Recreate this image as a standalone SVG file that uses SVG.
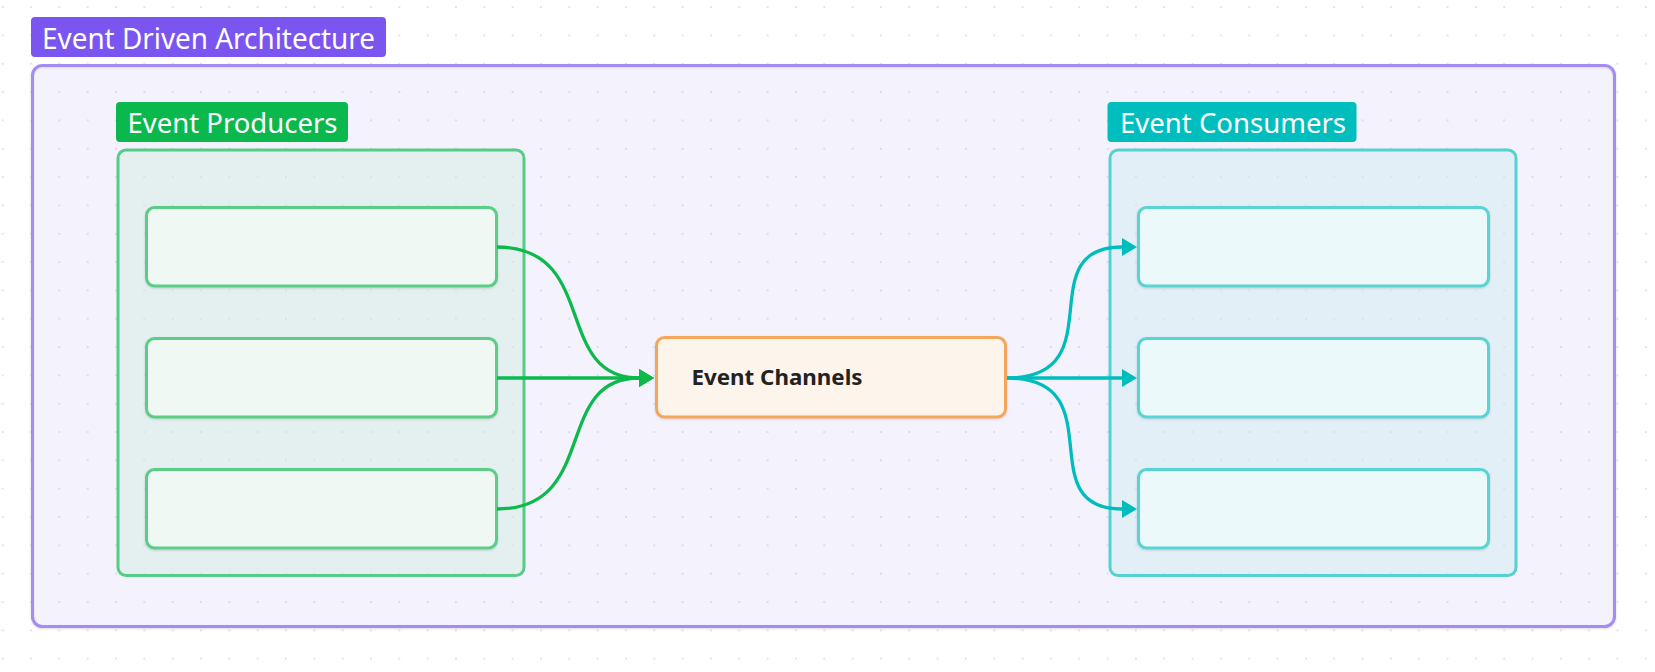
<svg xmlns="http://www.w3.org/2000/svg" width="1655" height="672" viewBox="0 0 1655 672">
  <style>
    .lbl { font-family: "Noto Sans", "Open Sans", "Liberation Sans", sans-serif; font-size: 28px; fill: #ffffff; }
    .title { font-size: 29px; }
    .ch { font-family: "Noto Sans", "Open Sans", "Liberation Sans", sans-serif; font-size: 21px; font-weight: 700; fill: #222222; }
    .pnode { fill: #eff8f3; stroke: #5bcd86; stroke-width: 3; }
    .cnode { fill: #ecf9fa; stroke: #5ad3d3; stroke-width: 3; }
    .gconn { fill: none; stroke: #0db84d; stroke-width: 3.3; }
    .tconn { fill: none; stroke: #00bdbd; stroke-width: 3.3; }
  </style>
  <defs>
    <pattern id="dots" x="2.7" y="7.1" width="28.33" height="28.33" patternUnits="userSpaceOnUse">
      <circle cx="0" cy="0" r="1" fill="#dcdce0"/>
      <circle cx="28.33" cy="0" r="1" fill="#dcdce0"/>
      <circle cx="0" cy="28.33" r="1" fill="#dcdce0"/>
      <circle cx="28.33" cy="28.33" r="1" fill="#dcdce0"/>
    </pattern>
    <filter id="sh" x="-5%" y="-5%" width="110%" height="115%">
      <feDropShadow dx="0" dy="1" stdDeviation="1" flood-color="#000000" flood-opacity="0.14"/>
    </filter>
    <marker id="ag" markerUnits="userSpaceOnUse" markerWidth="16" markerHeight="18" refX="7" refY="9" orient="auto">
      <path d="M0,0 L15,9 L0,18 z" fill="#0db84d"/>
    </marker>
    <marker id="at" markerUnits="userSpaceOnUse" markerWidth="16" markerHeight="18" refX="7" refY="9" orient="auto">
      <path d="M0,0 L15,9 L0,18 z" fill="#00bdbd"/>
    </marker>
  </defs>

  <rect x="0" y="0" width="1655" height="672" fill="#ffffff"/>
  <rect x="0" y="0" width="1655" height="672" fill="url(#dots)"/>

  <g id="event-driven-architecture">
    <rect x="32.5" y="65.5" width="1582" height="561" rx="10" fill="#7b55f0" fill-opacity="0.065" stroke="#a58cf2" stroke-width="3" filter="url(#sh)"/>
    <rect x="31" y="17" width="355" height="40" rx="4" fill="#7b55f0"/>
    <text class="lbl title" x="42" y="49" textLength="333" lengthAdjust="spacingAndGlyphs">Event Driven Architecture</text>
  </g>

  <g id="event-producers">
    <rect x="118" y="150" width="406" height="425.5" rx="8" fill="#d4ebe2" fill-opacity="0.5" stroke="#56cc86" stroke-width="3"/>
    <rect x="116" y="102" width="232" height="40" rx="4" fill="#0bb84e"/>
    <text class="lbl" x="127.5" y="133" textLength="210" lengthAdjust="spacingAndGlyphs">Event Producers</text>
  </g>
  <g id="producer-1"><rect class="pnode" x="146.5" y="207.5" width="350" height="78.5" rx="8" filter="url(#sh)"/></g>
  <g id="producer-2"><rect class="pnode" x="146.5" y="338.5" width="350" height="78.5" rx="8" filter="url(#sh)"/></g>
  <g id="producer-3"><rect class="pnode" x="146.5" y="469.5" width="350" height="78.5" rx="8" filter="url(#sh)"/></g>

  <g id="event-consumers">
    <rect x="1110" y="150" width="406" height="425.5" rx="8" fill="#d2ebf2" fill-opacity="0.5" stroke="#55d1d1" stroke-width="3"/>
    <rect x="1107.5" y="102" width="249" height="40" rx="4" fill="#00bebe"/>
    <text class="lbl" x="1120" y="133" textLength="226" lengthAdjust="spacingAndGlyphs">Event Consumers</text>
  </g>
  <g id="consumer-1"><rect class="cnode" x="1138.5" y="207.5" width="350" height="78.5" rx="8" filter="url(#sh)"/></g>
  <g id="consumer-2"><rect class="cnode" x="1138.5" y="338.5" width="350" height="78.5" rx="8" filter="url(#sh)"/></g>
  <g id="consumer-3"><rect class="cnode" x="1138.5" y="469.5" width="350" height="78.5" rx="8" filter="url(#sh)"/></g>

  <g id="event-channels">
    <rect x="656.5" y="337.5" width="349" height="79.5" rx="8" fill="#fdf5ec" stroke="#f5a55c" stroke-width="3" filter="url(#sh)"/>
    <text class="ch" x="691.5" y="385" textLength="171" lengthAdjust="spacingAndGlyphs">Event Channels</text>
  </g>

  <g id="connectors">
    <path class="gconn" d="M497,247 C600,247 552,378 639,378 L646,378" marker-end="url(#ag)"/>
    <path class="gconn" d="M497,378 L646,378" marker-end="url(#ag)"/>
    <path class="gconn" d="M497,509 C600,509 552,378 639,378 L646,378" marker-end="url(#ag)"/>
    <path class="tconn" d="M1007,378 C1116,378 1028,247 1122,247 L1129,247" marker-end="url(#at)"/>
    <path class="tconn" d="M1007,378 L1129,378" marker-end="url(#at)"/>
    <path class="tconn" d="M1007,378 C1116,378 1028,509 1122,509 L1129,509" marker-end="url(#at)"/>
  </g>
</svg>
